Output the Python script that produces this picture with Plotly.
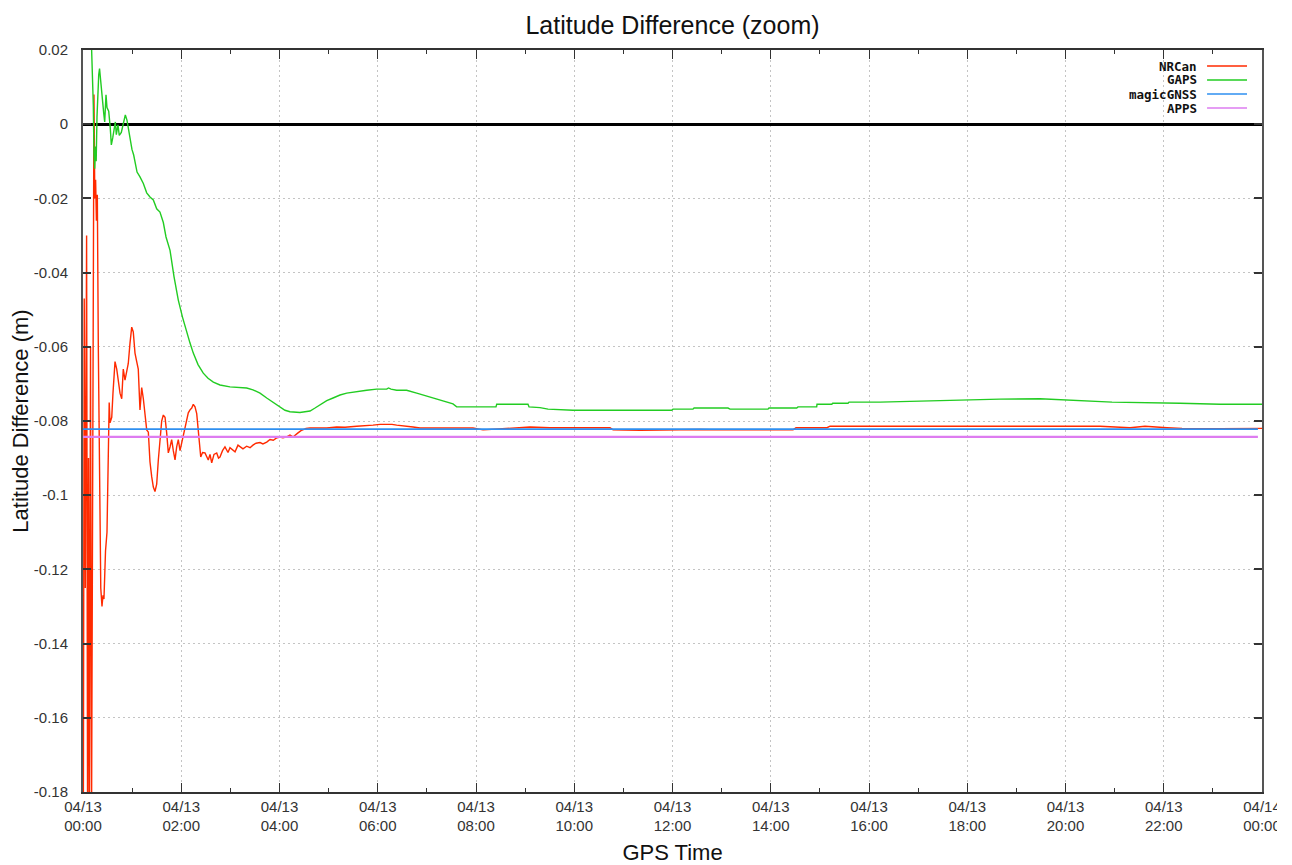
import plotly.graph_objects as go

# ---------------- data (minutes after 04/13 00:00, metres) ----------------
nrcan_t = [0.4, 1.5, 2.8, 4.4, 5.6, 6.7, 7.7, 9.2, 10.4, 11.6, 12.6, 13.4, 14.4, 15.4, 16.4, 17.5,
           18.7, 20.2, 21.7, 23.2, 24.4, 25.6, 27.5, 29.3, 30.8, 32.0, 33.0, 35.1, 36.6, 39.1, 41.2,
           43.1, 45.2, 47.3, 49.2, 51.3, 53.4, 55.3, 57.4, 59.5, 61.4, 63.5, 65.6, 67.5, 69.6, 71.7,
           73.7, 75.7, 77.8, 79.8, 81.8, 83.9, 85.9, 87.9, 90.0, 92.0, 94.0, 96.1, 98.1, 100.2, 102.2,
           104.2, 106.3, 108.3, 110.3, 112.4, 114.4, 116.4, 118.5, 120.5, 122.5, 124.6, 126.7, 128.6,
           130.7, 132.8, 134.7, 136.8, 138.9, 140.8, 143.8, 146.0, 149.0, 153.0, 155.1, 157.2, 160.0,
           163.3, 165.5, 167.3, 170.4, 173.4, 177.1, 179.5, 183.2, 185.7, 189.3, 191.8, 195.4, 199.9,
           204.0, 207.6, 211.3, 216.2, 219.8, 224.4, 228.4, 232.4, 236.9, 240.6, 244.3, 248.8, 252.8,
           256.5, 260.2, 262.6, 266.3, 268.7, 272.4, 277.3, 287.0, 297.7, 309.9, 320.0, 334.3, 344.4,
           354.2, 362.8, 370.9, 377.4, 383.1, 393.3, 403.1, 411.6, 436.0, 460.5, 476.3, 488.6, 503.2,
           521.5, 546.0, 570.4, 594.9, 619.3, 643.7, 647.4, 680.3, 704.8, 729.2, 753.6, 778.1, 802.5,
           826.9, 867.2, 870.9, 908.7, 912.4, 973.5, 1022.3, 1071.2, 1120.0, 1168.9, 1217.7, 1242.2,
           1278.8, 1297.1, 1324.0, 1342.3, 1388.7, 1440.0]
nrcan_v = [-0.19, -0.047, -0.125, -0.030, -0.19, -0.09, -0.19, -0.06, -0.19, -0.10, 0.006, 0.008,
           -0.02, -0.015, -0.026, -0.019, -0.06, -0.10, -0.125, -0.13, -0.127, -0.128, -0.115, -0.11,
           -0.09, -0.075, -0.0805, -0.079, -0.0725, -0.064, -0.066, -0.070, -0.0725, -0.074, -0.066,
           -0.069, -0.066, -0.0645, -0.059, -0.0547, -0.056, -0.0617, -0.064, -0.066, -0.077, -0.071,
           -0.074, -0.079, -0.0824, -0.083, -0.091, -0.095, -0.0978, -0.099, -0.097, -0.0905, -0.0843,
           -0.080, -0.0784, -0.079, -0.0832, -0.0886, -0.087, -0.085, -0.088, -0.0905, -0.087, -0.085,
           -0.088, -0.086, -0.084, -0.0816, -0.080, -0.0778, -0.077, -0.0765, -0.0755, -0.0762, -0.078,
           -0.0832, -0.0897, -0.0885, -0.0886, -0.0905, -0.089, -0.0913, -0.089, -0.0886, -0.090,
           -0.0897, -0.088, -0.087, -0.0885, -0.0872, -0.088, -0.0883, -0.0865, -0.087, -0.0875,
           -0.0868, -0.0872, -0.0865, -0.086, -0.0858, -0.0862, -0.0857, -0.085, -0.0852, -0.0845,
           -0.0843, -0.0845, -0.0843, -0.0838, -0.0843, -0.0835, -0.0832, -0.0826, -0.0824, -0.082,
           -0.0819, -0.0819, -0.0819, -0.0816, -0.0817, -0.0814, -0.0813, -0.0811, -0.0809, -0.0808,
           -0.0809, -0.0811, -0.0813, -0.0816, -0.0819, -0.0819, -0.082, -0.0819, -0.0824, -0.0822,
           -0.0818, -0.0816, -0.0818, -0.0817, -0.0818, -0.0818, -0.0824, -0.0825, -0.0824, -0.0824,
           -0.0823, -0.0824, -0.0823, -0.0824, -0.0824, -0.0818, -0.0818, -0.0814, -0.0814, -0.0814,
           -0.0815, -0.0816, -0.0816, -0.0815, -0.0814, -0.0818, -0.0814, -0.0818, -0.082, -0.0821,
           -0.082]

gaps_t = [10.4, 11.6, 12.6, 13.4, 14.3, 15.3, 16.1, 17.1, 18.3, 19.2, 20.2, 21.1, 22.4, 24.1, 25.3,
          26.5, 28.1, 29.3, 31.4, 33.3, 34.6, 36.3, 37.9, 39.5, 40.7, 42.7, 44.3, 46.8, 49.7, 51.7,
          53.7, 55.8, 57.8, 59.8, 61.9, 63.9, 66.0, 69.6, 73.7, 77.8, 81.8, 85.9, 90.0, 94.0, 98.1,
          101.4, 106.3, 111.1, 116.4, 121.5, 126.7, 130.7, 134.7, 140.5, 146.9, 152.7, 159.2, 167.3,
          179.5, 191.8, 199.9, 207.6, 216.2, 224.4, 232.4, 240.6, 246.7, 252.8, 258.9, 265.0, 271.1,
          277.3, 283.4, 289.5, 297.7, 305.4, 313.9, 322.1, 329.8, 338.3, 346.5, 358.7, 370.9, 373.1,
          376.2, 383.1, 395.3, 407.6, 423.8, 439.7, 451.9, 456.4, 476.3, 504.4, 505.3, 543.5, 544.8,
          558.2, 568.0, 596.9, 598.5, 719.0, 720.6, 745.0, 746.3, 787.8, 790.2, 836.6, 837.8, 871.7,
          873.3, 896.1, 896.5, 914.5, 915.7, 934.4, 935.6, 973.5, 1022.3, 1071.2, 1120.0, 1168.9,
          1205.5, 1242.2, 1256.8, 1339.9, 1388.7, 1440.0]
gaps_v = [0.021, 0.012, 0.005, -0.008, -0.012, -0.006, -0.010, 0.002, 0.010, 0.0133, 0.015, 0.0125,
          0.009, 0.0044, 0.003, 0.0006, 0.0079, 0.0045, 0.0035, -0.001, -0.0056, -0.0037, -0.001,
          0.0006, -0.0028, -0.0002, -0.003, -0.0022, 0.0006, 0.0025, 0.0011, -0.0021, -0.0048,
          -0.0068, -0.0083, -0.011, -0.0129, -0.0142, -0.016, -0.0185, -0.0196, -0.0204, -0.0228,
          -0.0237, -0.0265, -0.0304, -0.034, -0.041, -0.0474, -0.052, -0.0563, -0.059, -0.0617,
          -0.0648, -0.0671, -0.0685, -0.0695, -0.0703, -0.0708, -0.0710, -0.0711, -0.0716, -0.0725,
          -0.0738, -0.0749, -0.0762, -0.0771, -0.0775, -0.0777, -0.0777, -0.0775, -0.0773, -0.0765,
          -0.0757, -0.0745, -0.0738, -0.0730, -0.0725, -0.0722, -0.0719, -0.0717, -0.0714, -0.0714,
          -0.0711, -0.0714, -0.0717, -0.0717, -0.0725, -0.0735, -0.0746, -0.0754, -0.0762, -0.0762,
          -0.0762, -0.0755, -0.0755, -0.0762, -0.0764, -0.0768, -0.0769, -0.0771, -0.0771, -0.0768,
          -0.0768, -0.0765, -0.0765, -0.0768, -0.0768, -0.0765, -0.0765, -0.0762, -0.0762, -0.0755,
          -0.0755, -0.0752, -0.0752, -0.0749, -0.0749, -0.0746, -0.0744, -0.0741, -0.0740, -0.0743,
          -0.0746, -0.0749, -0.0752, -0.0755, -0.0755]

magic_t = [0.0, 1435.0]
magic_v = [-0.0822, -0.0822]
apps_t = [0.0, 1435.0]
apps_v = [-0.0843, -0.0843]

x_tickvals = [0, 120, 240, 360, 480, 600, 720, 840, 960, 1080, 1200, 1320, 1440]
x_ticktext = ["04/13<br>00:00", "04/13<br>02:00", "04/13<br>04:00", "04/13<br>06:00",
              "04/13<br>08:00", "04/13<br>10:00", "04/13<br>12:00", "04/13<br>14:00",
              "04/13<br>16:00", "04/13<br>18:00", "04/13<br>20:00", "04/13<br>22:00",
              "04/14<br>00:00"]
y_tickvals = [0.02, 0.0, -0.02, -0.04, -0.06, -0.08, -0.10, -0.12, -0.14, -0.16, -0.18]
y_ticktext = ["0.02", "0", "-0.02", "-0.04", "-0.06", "-0.08", "-0.1", "-0.12", "-0.14",
              "-0.16", "-0.18"]

series_names = ["NRCan", "GAPS", "magicGNSS", "APPS"]
series_colors = ["#ff2a00", "#22cc22", "#2e8ff0", "#dd7cf0"]

# ---------------- figure ----------------
fig = go.Figure()
data = [(nrcan_t, nrcan_v, 1.4), (gaps_t, gaps_v, 1.4), (magic_t, magic_v, 1.8), (apps_t, apps_v, 2.2)]
for (t, v, w), name, col in zip(data, series_names, series_colors):
    fig.add_trace(go.Scatter(x=t, y=v, mode="lines", name=name,
                             line=dict(color=col, width=w), showlegend=False))

# gnuplot-style legend: right aligned text, sample line to its right
leg_y = [0.9784, 0.9596, 0.9407, 0.9218]
for name, col, yy in zip(series_names, series_colors, leg_y):
    fig.add_annotation(xref="paper", yref="paper", x=0.9466, y=yy, xanchor="right",
                       yanchor="middle", text="<b>%s</b>" % name, showarrow=False,
                       font=dict(family="DejaVu Sans Mono", size=12.5, color="#111"))
    fig.add_shape(type="line", xref="paper", yref="paper", x0=0.9534, x1=0.9873,
                  y0=yy, y1=yy, line=dict(color=col, width=1.6))

fig.update_layout(
    width=1269, height=857,
    margin=dict(l=75, r=15, t=42, b=73, autoexpand=False),
    paper_bgcolor="white", plot_bgcolor="white",
    font=dict(family="Liberation Sans, Arial", color="#222"),
    title=dict(text="Latitude Difference (zoom)", x=0.5, xref="paper", y=0.980,
               yref="container", xanchor="center", yanchor="middle",
               font=dict(size=25, color="#111")),
)
fig.update_xaxes(
    range=[0, 1440], tickmode="array", tickvals=x_tickvals, ticktext=x_ticktext,
    ticks="inside", ticklen=9, tickcolor="#333", tickwidth=1.3,
    showline=True, linecolor="#333", linewidth=1.5, mirror="ticks",
    showgrid=True, gridcolor="#c4c4c4", griddash="2px,3px", gridwidth=1,
    zeroline=False, tickfont=dict(size=15, color="#333"), automargin=False,
    ticklabeloverflow="allow",
    minor=dict(tickmode="linear", tick0=0, dtick=60, ticks="inside", ticklen=4,
               tickcolor="#333", showgrid=False),
    title=dict(text="GPS Time", font=dict(size=22, color="#111"), standoff=14),
)
fig.update_yaxes(
    range=[-0.18, 0.02], tickmode="array", tickvals=y_tickvals, ticktext=y_ticktext,
    ticks="inside", ticklen=8, tickcolor="#333", tickwidth=1.5,
    showline=True, linecolor="#555", linewidth=2, mirror="ticks",
    showgrid=True, gridcolor="#c4c4c4", griddash="2px,3px", gridwidth=1,
    zeroline=True, zerolinecolor="#000", zerolinewidth=3, automargin=False,
    tickfont=dict(size=15, color="#333"), ticklabelstandoff=10,
    title=dict(text="Latitude Difference (m)", font=dict(size=22, color="#111"), standoff=0),
)

fig.write_html("out.html")
